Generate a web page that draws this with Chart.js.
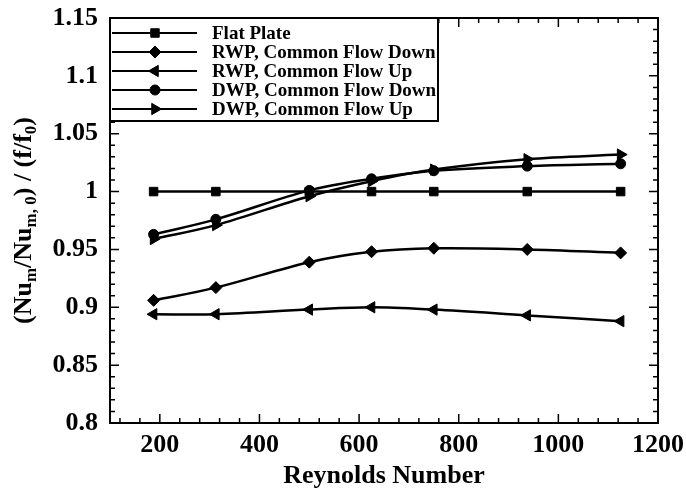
<!DOCTYPE html>
<html>
<head>
<meta charset="utf-8">
<script src="https://cdn.jsdelivr.net/npm/chart.js@4.4.1/dist/chart.umd.min.js"></script>
<style>
  html, body { margin: 0; padding: 0; background: #fff; }
  canvas { display: block; }
</style>
</head>
<body>
<canvas id="chart" width="686" height="489"></canvas>
<script>
const reynolds = [187.5, 312.5, 500, 625, 750, 937.5, 1125];
const flatPlate = [1, 1, 1, 1, 1, 1, 1];
const rwpDown = [0.906, 0.917, 0.939, 0.948, 0.951, 0.950, 0.947];
const rwpUp = [0.894, 0.894, 0.898, 0.900, 0.898, 0.893, 0.888];
const dwpDown = [0.963, 0.976, 1.001, 1.011, 1.018, 1.022, 1.024];
const dwpUp = [0.959, 0.971, 0.996, 1.009, 1.019, 1.028, 1.032];

const seriesNames = [
  "Flat Plate",
  "RWP, Common Flow Down",
  "RWP, Common Flow Up",
  "DWP, Common Flow Down",
  "DWP, Common Flow Up"
];

const xTicks = [200, 400, 600, 800, 1000, 1200];
const yTicks = [0.8, 0.85, 0.9, 0.95, 1, 1.05, 1.1, 1.15];

const serif = "'Liberation Serif', 'Times New Roman', serif";

function points(values) {
  return reynolds.map((x, i) => ({ x: x, y: values[i] }));
}

function series(label, values, style, radius, rotation) {
  return {
    label: label,
    data: points(values),
    borderColor: "#000",
    backgroundColor: "#000",
    borderWidth: 2.5,
    pointStyle: style,
    pointRadius: radius,
    pointRotation: rotation || 0,
    pointBorderWidth: 1,
    tension: 0.35
  };
}

// inward ticks on all four sides, frame, legend box and axis titles
const framePlugin = {
  id: "frame",
  afterDatasetsDraw(chart) {
    const ctx = chart.ctx;
    const a = chart.chartArea;
    const xs = chart.scales.x;
    const ys = chart.scales.y;
    ctx.save();
    ctx.strokeStyle = "#000";
    ctx.lineWidth = 1.5;
    ctx.beginPath();
    for (let v = 120; v < 1200; v += 40) {
      const px = xs.getPixelForValue(v);
      const len = v % 200 === 0 ? 9 : 5;
      ctx.moveTo(px, a.bottom); ctx.lineTo(px, a.bottom - len);
      ctx.moveTo(px, a.top); ctx.lineTo(px, a.top + len);
    }
    for (let k = 81; k < 115; k++) {
      const py = ys.getPixelForValue(k / 100);
      const len = k % 5 === 0 ? 9 : 5;
      ctx.moveTo(a.left, py); ctx.lineTo(a.left + len, py);
      ctx.moveTo(a.right, py); ctx.lineTo(a.right - len, py);
    }
    ctx.stroke();
    ctx.lineWidth = 2;
    ctx.strokeRect(a.left, a.top, a.right - a.left, a.bottom - a.top);

    // legend box
    const lx = a.left, ly = a.top, lw = 328, lh = 103;
    ctx.fillStyle = "#fff";
    ctx.fillRect(lx, ly, lw, lh);
    ctx.strokeRect(lx, ly, lw, lh);
    ctx.font = "bold 19px " + serif;
    ctx.textBaseline = "middle";
    ctx.textAlign = "left";
    chart.data.datasets.forEach((ds, i) => {
      const y = ly + 15 + i * 19;
      ctx.strokeStyle = "#000";
      ctx.lineWidth = 2.2;
      ctx.beginPath();
      ctx.moveTo(lx + 2, y);
      ctx.lineTo(lx + 87, y);
      ctx.stroke();
      ctx.fillStyle = "#000";
      ctx.lineWidth = 1;
      Chart.helpers.drawPoint(ctx, {
        pointStyle: ds.pointStyle,
        radius: ds.pointRadius,
        rotation: ds.pointRotation,
        borderWidth: 1
      }, lx + 45, y);
      ctx.fillStyle = "#000";
      ctx.fillText(ds.label, lx + 102, y + 1);
    });

    // axis titles
    ctx.fillStyle = "#000";
    ctx.font = "bold 26px " + serif;
    ctx.textAlign = "center";
    ctx.textBaseline = "alphabetic";
    ctx.fillText("Reynolds Number", (a.left + a.right) / 2, 483);

    const parts = [
      ["(Nu", 0], ["m", 1], ["/Nu", 0], ["m, 0", 1],
      [") / (f/f", 0], ["0", 1], [")", 0]
    ];
    const mainFont = "bold 26px " + serif;
    const subFont = "bold 17px " + serif;
    let total = 0;
    parts.forEach(p => {
      ctx.font = p[1] ? subFont : mainFont;
      total += ctx.measureText(p[0]).width;
    });
    ctx.save();
    ctx.translate(24, (a.top + a.bottom) / 2);
    ctx.rotate(-Math.PI / 2);
    ctx.textAlign = "left";
    ctx.textBaseline = "middle";
    let cx = -total / 2;
    parts.forEach(p => {
      ctx.font = p[1] ? subFont : mainFont;
      ctx.fillText(p[0], cx, p[1] ? 8 : 0);
      cx += ctx.measureText(p[0]).width;
    });
    ctx.restore();
    ctx.restore();
  }
};

new Chart(document.getElementById("chart"), {
  type: "line",
  data: {
    datasets: [
      series(seriesNames[0], flatPlate, "rect", 6),
      series(seriesNames[1], rwpDown, "rectRot", 6),
      series(seriesNames[2], rwpUp, "triangle", 6.5, -90),
      series(seriesNames[3], dwpDown, "circle", 5),
      series(seriesNames[4], dwpUp, "triangle", 6.5, 90)
    ]
  },
  options: {
    responsive: false,
    animation: false,
    devicePixelRatio: 1,
    layout: { padding: { top: 18, right: 28, left: 0, bottom: 0 } },
    plugins: {
      legend: { display: false },
      tooltip: { enabled: false }
    },
    scales: {
      x: {
        type: "linear",
        min: 100,
        max: 1200,
        grid: { display: false, drawTicks: false },
        border: { display: false },
        afterBuildTicks: s => { s.ticks = xTicks.map(v => ({ value: v })); },
        afterFit: s => { s.height = 66; s.paddingLeft = 0; s.paddingRight = 0; },
        ticks: {
          color: "#000",
          padding: 7,
          maxRotation: 0,
          font: { family: serif, weight: "bold", size: 26 },
          callback: v => String(v)
        }
      },
      y: {
        min: 0.8,
        max: 1.15,
        grid: { display: false, drawTicks: false },
        border: { display: false },
        afterBuildTicks: s => { s.ticks = yTicks.map(v => ({ value: v })); },
        afterFit: s => { s.width = 110; s.paddingTop = 0; s.paddingBottom = 0; },
        ticks: {
          color: "#000",
          padding: 12,
          font: { family: serif, weight: "bold", size: 26 },
          callback: v => String(v)
        }
      }
    }
  },
  plugins: [framePlugin]
});
</script>
</body>
</html>
